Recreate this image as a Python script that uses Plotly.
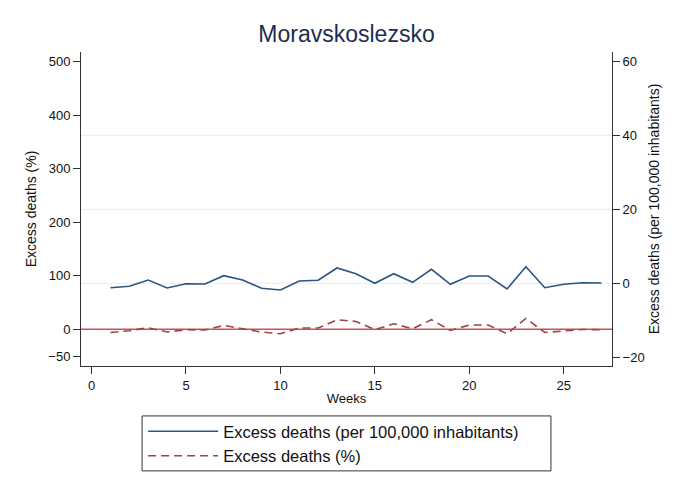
import plotly.graph_objects as go

weeks = list(range(1, 28))
excess_per100k = [-1.19, -0.81, 0.89, -1.27, -0.11, -0.19, 2.05, 0.89, -1.35, -1.81,
                  0.62, 0.81, 4.14, 2.6, 0.0, 2.59, 0.27, 3.78, -0.27, 1.97,
                  1.97, -1.54, 4.49, -1.19, -0.27, 0.16, 0.08]
excess_pct = [-6.0, -2.8, 2.8, -5.2, -1.0, -1.5, 7.1, 1.5, -5.2, -8.4,
              2.2, 2.2, 17.8, 14.6, -0.9, 10.3, 0.9, 17.8, -2.2, 7.9,
              7.9, -8.4, 20.2, -6.0, -2.8, -0.4, -0.9]

x_ticks = [0, 5, 10, 15, 20, 25]
left_ticks = [-50, 0, 100, 200, 300, 400, 500]
right_ticks = [-20, 0, 20, 40, 60]
grid_right = [0, 20, 40]
ref_zero = 0

title_text = "Moravskoslezsko"
name_blue = "Excess deaths (per 100,000 inhabitants)"
name_red = "Excess deaths (%)"

FONT = "Liberation Sans, Arial, Helvetica, sans-serif"
AX = "#333333"

fig = go.Figure()

for g in grid_right:
    fig.add_shape(type="line", xref="paper", x0=0, x1=1, yref="y2", y0=g, y1=g,
                  line=dict(color="#e4edef", width=1), layer="below")

fig.add_trace(go.Scatter(x=weeks, y=excess_per100k, yaxis="y2", mode="lines",
                         name=name_blue, line=dict(color="#2a5680", width=1.6)))
fig.add_trace(go.Scatter(x=weeks, y=excess_pct, yaxis="y", mode="lines",
                         name=name_red, line=dict(color="#9a444a", width=1.6, dash="8px,5px")))

fig.add_shape(type="line", xref="paper", x0=0, x1=1, yref="y", y0=ref_zero, y1=ref_zero,
              line=dict(color="#cc4f5a", width=1.5), layer="below")

# legend box
fig.add_shape(type="rect", xref="paper", yref="paper", x0=0.115, x1=0.885, y0=-0.334, y1=-0.159,
              line=dict(color="#333333", width=1), fillcolor="rgba(0,0,0,0)")

fig.update_layout(
    width=685, height=485,
    margin=dict(l=73, r=81, t=44, b=127, autoexpand=False),
    paper_bgcolor="white", plot_bgcolor="white",
    font=dict(family=FONT, size=13, color="#111111"),
    title=dict(text=title_text, xref="paper", x=0.5, xanchor="center", y=0.946, yanchor="middle",
               font=dict(family=FONT, size=23, color="#1e2d50")),
    showlegend=True,
    legend=dict(x=0.117, xanchor="left", y=-0.153, yanchor="top",
                bgcolor="rgba(0,0,0,0)", borderwidth=0, itemwidth=70,
                font=dict(family=FONT, size=16.5, color="#111111"),
                tracegroupgap=0),
    xaxis=dict(range=[-0.56, 27.56], tickvals=x_ticks, showgrid=False, zeroline=False,
               showline=True, linecolor=AX, linewidth=1, ticks="outside", ticklen=7,
               tickcolor=AX, tickfont=dict(size=13),
               title=dict(text="Weeks", standoff=2, font=dict(size=13))),
    yaxis=dict(range=[-68.7, 518.3], tickvals=left_ticks, showgrid=False, zeroline=False,
               showline=True, linecolor=AX, linewidth=1, ticks="outside", ticklen=7,
               tickcolor=AX, tickfont=dict(size=13),
               title=dict(text="Excess deaths (%)", standoff=8, font=dict(size=14))),
    yaxis2=dict(range=[-22.35, 62.5], tickvals=right_ticks, overlaying="y", side="right",
                showgrid=False, zeroline=False, showline=True, linecolor=AX, linewidth=1,
                ticks="outside", ticklen=7, tickcolor=AX, tickfont=dict(size=13),
                title=dict(text="Excess deaths (per 100,000 inhabitants)", standoff=5,
                           font=dict(size=14))),
)

fig.write_html("out.html")
